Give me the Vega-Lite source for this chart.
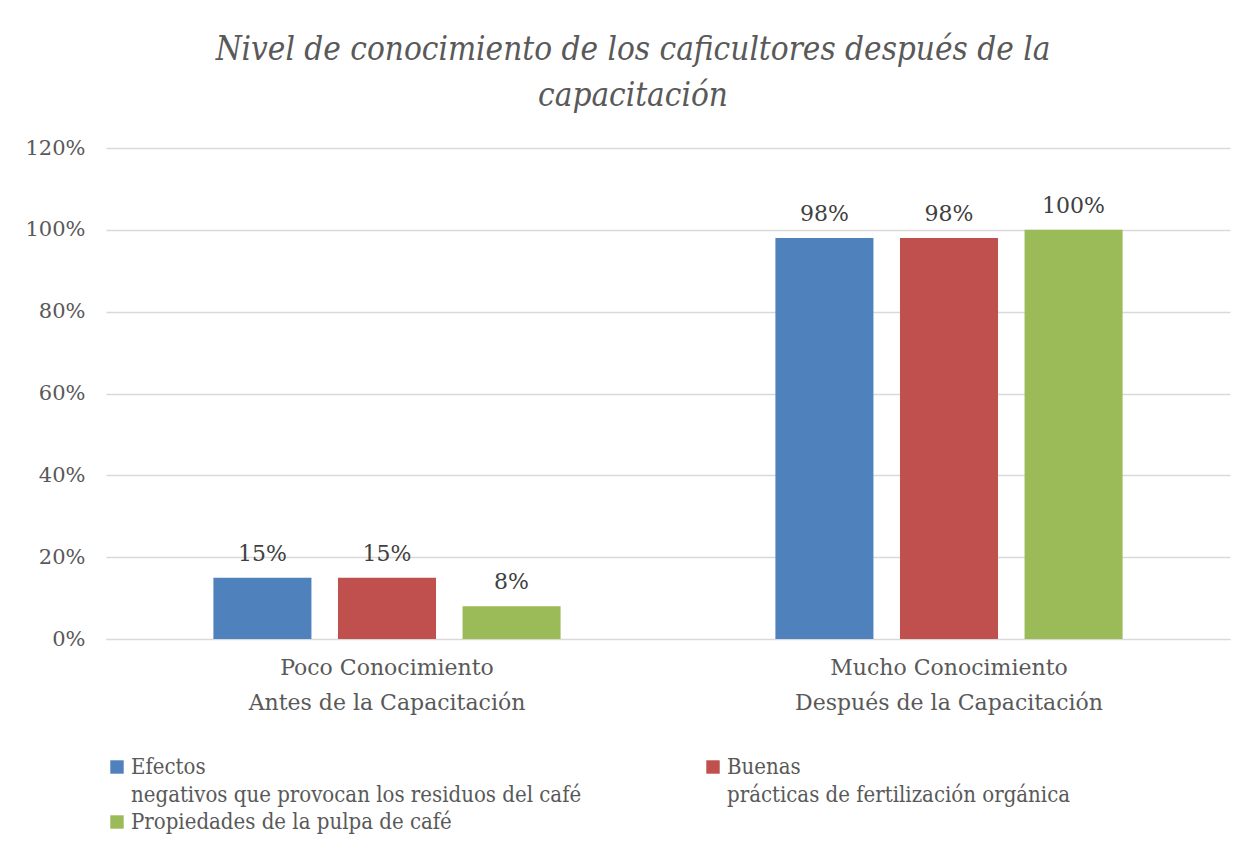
{
  "$schema": "https://vega.github.io/schema/vega-lite/v6.json",
  "width": 1124,
  "height": 491,
  "padding": {"left": 24, "top": 34, "right": 20, "bottom": 10},
  "background": "white",
  "title": {
    "text": ["Nivel de conocimiento de los caficultores después de la", "capacitación"],
    "font": "DejaVu Serif Condensed",
    "fontStyle": "italic",
    "fontWeight": "normal",
    "fontSize": 33,
    "lineHeight": 46,
    "color": "#595959",
    "anchor": "middle",
    "dx": -35,
    "offset": 24
  },
  "data": {
    "values": [
      {"nivel": "Poco Conocimiento|Antes de la Capacitación", "serie": "Efectos|negativos que provocan los residuos del café", "valor": 0.15},
      {"nivel": "Poco Conocimiento|Antes de la Capacitación", "serie": "Buenas|prácticas de fertilización orgánica", "valor": 0.15},
      {"nivel": "Poco Conocimiento|Antes de la Capacitación", "serie": "Propiedades de la pulpa de café", "valor": 0.08},
      {"nivel": "Mucho Conocimiento|Después de la Capacitación", "serie": "Efectos|negativos que provocan los residuos del café", "valor": 0.98},
      {"nivel": "Mucho Conocimiento|Después de la Capacitación", "serie": "Buenas|prácticas de fertilización orgánica", "valor": 0.98},
      {"nivel": "Mucho Conocimiento|Después de la Capacitación", "serie": "Propiedades de la pulpa de café", "valor": 1.0}
    ]
  },
  "encoding": {
    "x": {
      "field": "nivel",
      "type": "nominal",
      "sort": null,
      "title": null,
      "scale": {"paddingInner": 0.335, "paddingOuter": 0.1675},
      "axis": {
        "labelExpr": "split(datum.label, '|')",
        "labelAngle": 0,
        "labelFont": "DejaVu Serif",
        "labelFontSize": 22,
        "labelLineHeight": 35,
        "labelColor": "#595959",
        "labelPadding": 18,
        "labelLimit": 0,
        "domain": true,
        "domainColor": "#D9D9D9",
        "ticks": false
      }
    },
    "xOffset": {
      "field": "serie",
      "type": "nominal",
      "sort": null,
      "scale": {"paddingInner": 0.213, "paddingOuter": 0.1065}
    },
    "y": {
      "field": "valor",
      "type": "quantitative",
      "title": null,
      "scale": {"domain": [0, 1.2], "nice": false},
      "axis": {
        "values": [0, 0.2, 0.4, 0.6, 0.8, 1.0, 1.2],
        "format": ".0%",
        "labelFont": "DejaVu Serif",
        "labelFontSize": 21,
        "labelColor": "#595959",
        "labelPadding": 21,
        "domain": false,
        "ticks": false,
        "grid": true,
        "gridColor": "#D9D9D9",
        "gridWidth": 1.3
      }
    }
  },
  "layer": [
    {
      "mark": {"type": "bar"},
      "encoding": {
        "color": {
          "field": "serie",
          "type": "nominal",
          "sort": null,
          "scale": {"range": ["#4F81BD", "#C0504D", "#9BBB59"]},
          "legend": {
            "title": null,
            "orient": "bottom",
            "direction": "horizontal",
            "columns": 2,
            "columnPadding": 120,
            "rowPadding": 5,
            "symbolType": "square",
            "symbolSize": 180,
            "symbolStrokeWidth": 0,
            "labelExpr": "split(datum.label, '|')",
            "labelFont": "DejaVu Serif Condensed",
            "labelFontSize": 22,
            "labelColor": "#595959",
            "labelLimit": 0,
            "labelOffset": 3,
            "offset": 43,
            "encode": {"labels": {"update": {"lineHeight": {"value": 28}}}}
          }
        }
      }
    },
    {
      "mark": {"type": "text", "baseline": "bottom", "dy": -12, "font": "DejaVu Serif", "fontSize": 22, "color": "#404040"},
      "encoding": {
        "text": {"field": "valor", "type": "quantitative", "format": ".0%"}
      }
    }
  ],
  "config": {
    "view": {"stroke": null}
  }
}
